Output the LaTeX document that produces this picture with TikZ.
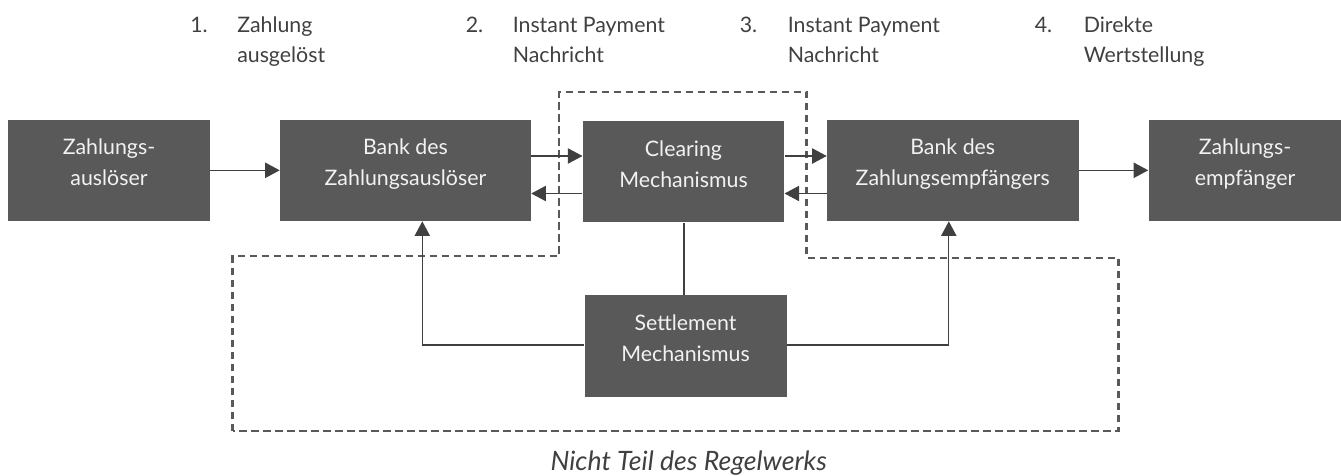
\documentclass[tikz,border=0pt]{standalone}
\usepackage{fontspec}
\setmainfont{Lato}
\usetikzlibrary{arrows.meta}
\definecolor{boxfill}{HTML}{595959}
\definecolor{boxtext}{HTML}{F2F2F2}
\definecolor{linecol}{HTML}{404040}
\definecolor{dashcol}{HTML}{595959}
\definecolor{labeltext}{HTML}{404040}
\begin{document}
\begin{tikzpicture}[x=0.75pt,y=-0.75pt,
  box/.style={fill=boxfill,draw=none,inner sep=0pt},
  boxlabel/.style={inner sep=0pt,align=center,text=boxtext,font=\fontsize{16}{23}\selectfont,yshift=4.6pt},
  steplabel/.style={inner sep=0pt,anchor=north west,align=left,text=labeltext,font=\fontsize{16}{23}\selectfont},
  conn/.style={draw=linecol,line width=1pt},
  arr/.style={conn,-{Triangle[length=11pt,width=11.5pt]}},
  border/.style={draw=dashcol,line width=1.6pt,dash pattern=on 5.5pt off 3.5pt}
]
\useasboundingbox (0,0) rectangle (1341,475);

% boxes
\node[box,minimum width=202*0.75pt,minimum height=101.5*0.75pt] (b1) at (109,170.3) {};
\node[box,minimum width=251*0.75pt,minimum height=101.5*0.75pt] (b2) at (405.5,170.3) {};
\node[box,minimum width=201.5*0.75pt,minimum height=101*0.75pt] (b3) at (683.5,171.8) {};
\node[box,minimum width=251.5*0.75pt,minimum height=101.5*0.75pt] (b4) at (952.75,170.3) {};
\node[box,minimum width=193*0.75pt,minimum height=101.5*0.75pt] (b5) at (1245,170.3) {};
\node[box,minimum width=202*0.75pt,minimum height=102*0.75pt] (b6) at (685.5,346) {};

% box texts
\node[boxlabel] (t1) at (b1.center) {\strut Zahlungs-\\\strut auslöser};
\node[boxlabel] (t2) at (b2.center) {\strut Bank des\\\strut Zahlungsauslöser};
\node[boxlabel] (t3) at (b3.center) {\strut Clearing\\\strut Mechanismus};
\node[boxlabel] (t4) at (b4.center) {\strut Bank des\\\strut Zahlungsempfängers};
\node[boxlabel] (t5) at (b5.center) {\strut Zahlungs-\\\strut empfänger};
\node[boxlabel] (t6) at (b6.center) {\strut Settlement\\\strut Mechanismus};

% step labels
\node[steplabel] (n1) at (190,10.5) {\strut 1.};
\node[steplabel] (s1) at (237,10.5) {\strut Zahlung\\\strut ausgelöst};
\node[steplabel] (n2) at (465.5,10.5) {\strut 2.};
\node[steplabel] (s2) at (512.5,10.5) {\strut Instant Payment\\\strut Nachricht};
\node[steplabel] (n3) at (739.5,10.5) {\strut 3.};
\node[steplabel] (s3) at (787.5,10.5) {\strut Instant Payment\\\strut Nachricht};
\node[steplabel] (n4) at (1034.5,10.5) {\strut 4.};
\node[steplabel] (s4) at (1083.5,10.5) {\strut Direkte\\\strut Wertstellung};

% dashed boundary
\coordinate (d1) at (232.5,431);
\coordinate (d2) at (232.5,256);
\coordinate (d3) at (559,256);
\coordinate (d4) at (559,92);
\coordinate (d5) at (806.5,92);
\coordinate (d6) at (806.5,258);
\coordinate (d7) at (1118.5,258);
\coordinate (d8) at (1118.5,431);
\draw[border] (d1) -- (d2) -- (d3) -- (d4) -- (d5) -- (d6) -- (d7) -- (d8) -- cycle;

% connectors
\draw[arr] (b1.east) -- (b2.west);
\draw[arr] (b4.east) -- (b5.west);
\draw[arr] (b2.east |- 0,156) -- (b3.west |- 0,156);
\draw[arr] (b3.west |- 0,193.5) -- (b2.east |- 0,193.5);
\draw[arr] (b3.east |- 0,156) -- (b4.west |- 0,156);
\draw[arr] (b4.west |- 0,193.5) -- (b3.east |- 0,193.5);
\draw[conn] (b3.south -| 684,0) -- (b6.north -| 684,0);
\draw[arr] (b6.west |- 0,345) -| (b2.south -| 422.3,0);
\draw[arr] (b6.east |- 0,345) -| (b4.south -| 948.8,0);

% caption
\node[inner sep=0pt,anchor=base,text=labeltext,font=\fontsize{20}{24}\selectfont\itshape] (cap) at (688.7,470) {Nicht Teil des Regelwerks};
\end{tikzpicture}
\end{document}
